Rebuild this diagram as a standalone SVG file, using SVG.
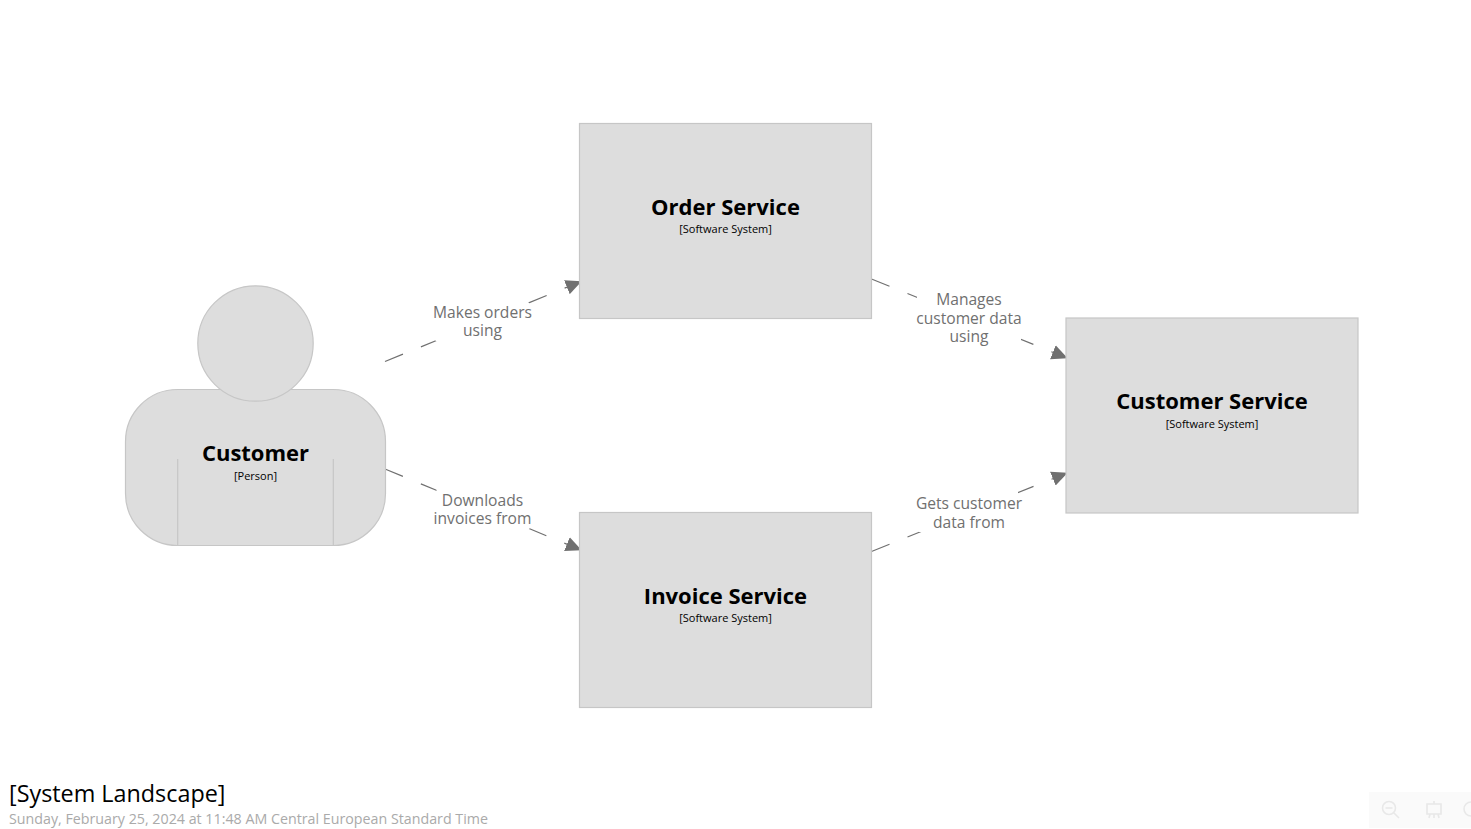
<svg xmlns="http://www.w3.org/2000/svg" width="1471" height="829" viewBox="0 0 1471 829">
<style>
text{font-family:"Open Sans","Noto Sans",sans-serif;text-anchor:middle}
.shape{fill:#dddddd;stroke:#c6c6c6;stroke-width:1.2}
.name{font-size:22px;font-weight:700;fill:#000}
.meta{font-size:11px;fill:#000}
.lbl{font-size:15.6px;fill:#707070}
.rel{fill:none;stroke:#707070;stroke-width:1.2;stroke-dasharray:19.4 19.4;marker-end:url(#arrow)}
.halo{fill:#fff}
.icon{fill:none;stroke:#e8e8e8;stroke-width:1.6}
</style>
<defs>
<marker id="arrow" markerUnits="userSpaceOnUse" markerWidth="18" markerHeight="16" refX="16" refY="8" orient="auto">
<path d="M0,0.5 L16,8 L0,15.5 Z" fill="#707070"/>
</marker>
</defs>
<rect width="1471" height="829" fill="#fff"/>
<g id="connectors">
<path class="rel" d="M385,361.5 L581.7,281.2"/>
<path class="rel" d="M385,469 L581.7,550.3"/>
<path class="rel" d="M871.5,279 L1067.7,358.3"/>
<path class="rel" d="M871.5,551.5 L1067.7,472.7"/>
<rect class="halo" x="435.5" y="303" width="94" height="38"/>
<rect class="halo" x="436.5" y="489" width="93" height="40"/>
<rect class="halo" x="917" y="290" width="104" height="57"/>
<rect class="halo" x="919" y="491" width="99" height="41"/>
<text class="lbl"><tspan x="482.5" y="318">Makes orders</tspan><tspan x="482.5" y="336">using</tspan></text>
<text class="lbl"><tspan x="482.5" y="506">Downloads</tspan><tspan x="482.5" y="524">invoices from</tspan></text>
<text class="lbl"><tspan x="969" y="305">Manages</tspan><tspan x="969" y="324">customer data</tspan><tspan x="969" y="342">using</tspan></text>
<text class="lbl"><tspan x="969" y="509">Gets customer</tspan><tspan x="969" y="528">data from</tspan></text>
</g>
<g id="customer">
<rect class="shape" x="125.5" y="389.5" width="260" height="156" rx="52" ry="52"/>
<circle class="shape" cx="255.5" cy="343.5" r="57.7"/>
<path d="M177.7,459 V545 M333.3,459 V545" fill="none" stroke="#c6c6c6" stroke-width="1.2"/>
<text class="name" x="255.5" y="461">Customer</text>
<text class="meta" x="255.5" y="480">[Person]</text>
</g>
<g id="order-service">
<rect class="shape" x="579.5" y="123.5" width="292" height="195"/>
<text class="name" x="725.5" y="215">Order Service</text>
<text class="meta" x="725.5" y="233">[Software System]</text>
</g>
<g id="invoice-service">
<rect class="shape" x="579.5" y="512.5" width="292" height="195"/>
<text class="name" x="725.5" y="604">Invoice Service</text>
<text class="meta" x="725.5" y="622">[Software System]</text>
</g>
<g id="customer-service">
<rect class="shape" x="1066" y="318" width="292" height="195"/>
<text class="name" x="1212" y="409">Customer Service</text>
<text class="meta" x="1212" y="428">[Software System]</text>
</g>
<g id="title">
<text x="9" y="802" font-size="23.35px" fill="#000" style="text-anchor:start">[System Landscape]</text>
<text x="9" y="824" font-size="14.26px" fill="#aaaaaa" style="text-anchor:start">Sunday, February 25, 2024 at 11:48 AM Central European Standard Time</text>
</g>
<g id="toolbar">
<rect x="1369" y="792" width="102" height="36" fill="#fafafa"/>
<circle class="icon" cx="1389" cy="808" r="6.5"/>
<path class="icon" d="M1385.5,808 H1392.5 M1394,813 L1399,818"/>
<path class="icon" d="M1427,804 H1441 V814 H1427 Z M1434,801 V804 M1430,814 L1429,818 M1438,814 L1439,818 M1434,814 V818"/>
<path class="icon" d="M1471,802 A7,7 0 0 0 1471,816"/>
</g>
</svg>
